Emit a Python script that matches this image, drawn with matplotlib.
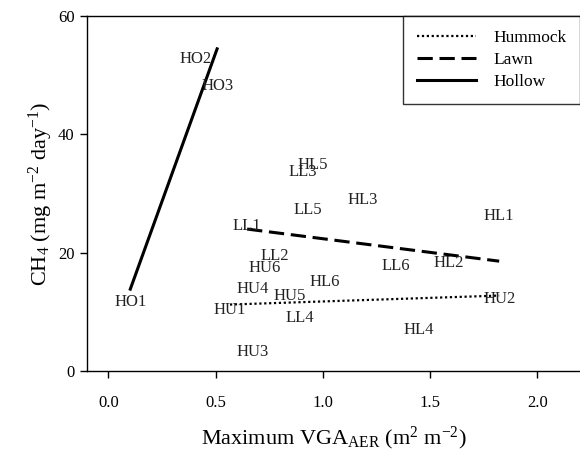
import numpy as np
import matplotlib
matplotlib.use("Agg")
import matplotlib.pyplot as plt

plt.rcParams['font.family'] = ['Liberation Serif', 'DejaVu Serif']
plt.rcParams['mathtext.fontset'] = 'custom'
plt.rcParams['mathtext.rm'] = 'Liberation Serif'
plt.rcParams['mathtext.it'] = 'Liberation Serif:italic'

# Data (label, Maximum VGA_AER, CH4)
hummock_labels = ["HU1", "HU2", "HU3", "HU4", "HU5", "HU6"]
hummock_x = [0.567, 1.823, 0.674, 0.674, 0.847, 0.730]
hummock_y = [10.3, 12.2, 3.2, 13.9, 12.7, 17.4]

lawn_labels = ["LL1", "LL2", "LL3", "LL4", "LL5", "LL6",
               "HL1", "HL2", "HL3", "HL4", "HL5", "HL6"]
lawn_x = [0.647, 0.777, 0.907, 0.893, 0.930, 1.340,
          1.823, 1.586, 1.186, 1.447, 0.953, 1.009]
lawn_y = [24.5, 19.4, 33.6, 9.0, 27.2, 17.7,
          26.2, 18.2, 28.9, 6.9, 34.8, 15.0]

hollow_labels = ["HO1", "HO2", "HO3"]
hollow_x = [0.102, 0.405, 0.507]
hollow_y = [11.7, 52.7, 48.1]

x_ticks = [0.0, 0.5, 1.0, 1.5, 2.0]
y_ticks = [0, 20, 40, 60]

fig = plt.figure(figsize=(5.8, 4.51), dpi=100)
ax = fig.add_axes([87/580, 1 - 371/451, 1 - 87/580, (371 - 16)/451])

def fit_line(xs, ys):
    xs = np.asarray(xs); ys = np.asarray(ys)
    m, b = np.polyfit(xs, ys, 1)
    xx = np.array([xs.min(), xs.max()])
    return xx, m * xx + b

groups = [
    ("Hummock", hummock_labels, hummock_x, hummock_y, dict(linestyle=(0, (1, 1.2)), linewidth=1.6)),
    ("Lawn", lawn_labels, lawn_x, lawn_y, dict(linestyle=(0, (5, 2.2)), linewidth=2.2)),
    ("Hollow", hollow_labels, hollow_x, hollow_y, dict(linestyle='-', linewidth=2.2)),
]

for name, labels, xs, ys, style in groups:
    xx, yy = fit_line(xs, ys)
    ax.plot(xx, yy, color='black', label=name, **style)
    for lab, x, y in zip(labels, xs, ys):
        ax.text(x, y, lab, ha='center', va='center', fontsize=12, color='#222222')

ax.set_xlim(-0.1, 2.2)
ax.set_ylim(0, 60)
ax.set_xticks(x_ticks)
ax.set_xticklabels([f"{t:.1f}" for t in x_ticks])
ax.set_yticks(y_ticks)
ax.tick_params(direction='out', length=5, width=1, labelsize=12, pad=4)
ax.tick_params(axis='x', pad=12)
for s in ['left', 'bottom', 'top']:
    ax.spines[s].set_linewidth(1.0)
ax.spines['right'].set_visible(False)

ax.set_xlabel(r"Maximum VGA$_{\mathrm{AER}}$ (m$^{2}$ m$^{-2}$)", fontsize=16, labelpad=10)
ax.set_ylabel(r"CH$_{4}$ (mg m$^{-2}$ day$^{-1}$)", fontsize=16, labelpad=2)

leg = ax.legend(loc='upper right', bbox_to_anchor=(1.0, 1.0), borderaxespad=0,
                fontsize=12.5, handlelength=3.4, frameon=True, fancybox=False,
                edgecolor='black', borderpad=0.8, labelspacing=0.35, handletextpad=1.0)
leg.get_frame().set_linewidth(1.0)

fig.savefig("out.png", dpi=100)
